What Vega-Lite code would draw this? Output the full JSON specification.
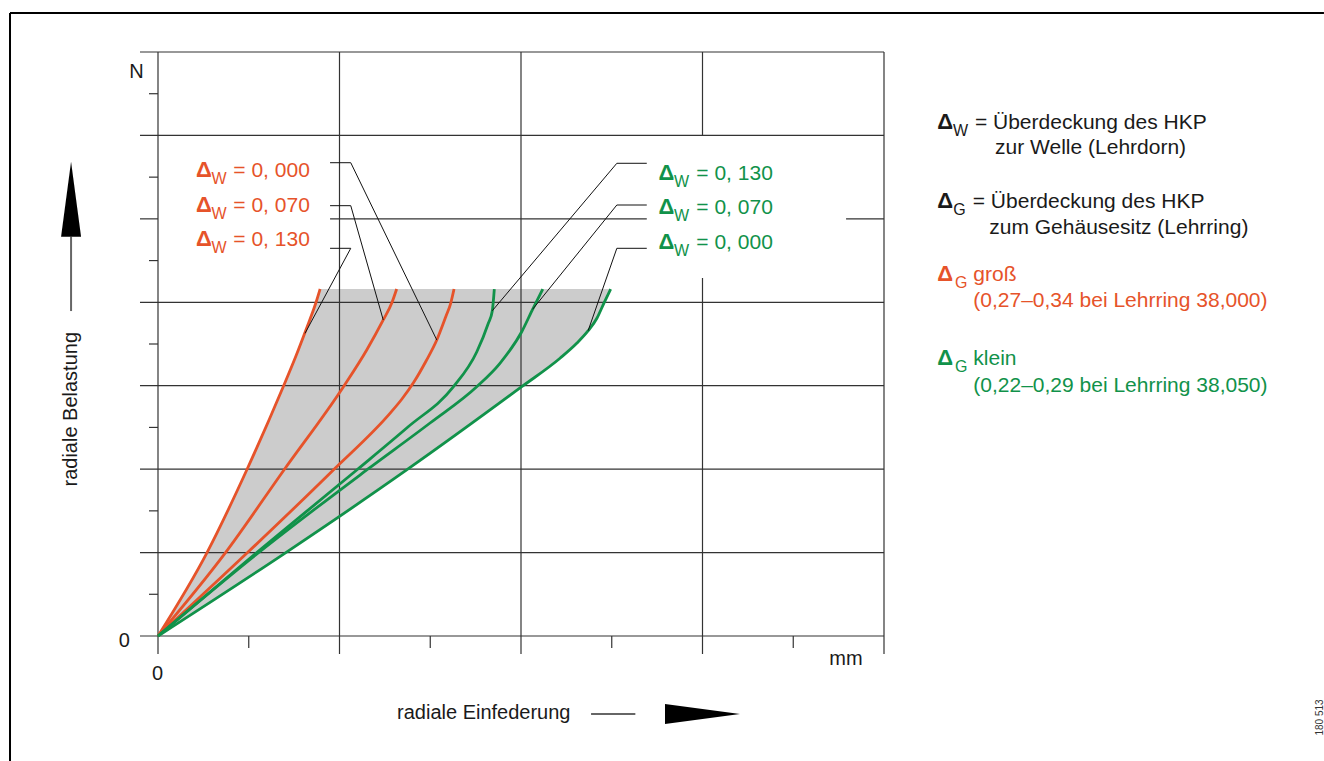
{
  "$schema": "https://vega.github.io/schema/vega-lite/v6.json",
  "width": 726,
  "height": 584,
  "autosize": {"type": "none"},
  "padding": {"left": 158, "top": 52, "right": 440, "bottom": 125},
  "background": "white",
  "config": {"view": {"stroke": null}, "text": {"font": "Liberation Sans"}},
  "datasets": {
    "area": [
      {"y": 0, "x": 0, "x2": 0},
      {"y": 0.979, "x": 0.265, "x2": 0.69},
      {"y": 1.99, "x": 0.489, "x2": 1.37},
      {"y": 2.988, "x": 0.69, "x2": 2.004},
      {"y": 3.329, "x": 0.755, "x2": 2.215},
      {"y": 3.428, "x": 0.773, "x2": 2.266},
      {"y": 3.508, "x": 0.787, "x2": 2.307},
      {"y": 3.656, "x": 0.813, "x2": 2.369},
      {"y": 3.764, "x": 0.831, "x2": 2.404},
      {"y": 3.812, "x": 0.839, "x2": 2.419},
      {"y": 3.988, "x": 0.869, "x2": 2.457},
      {"y": 4.159, "x": 0.893, "x2": 2.494}
    ],
    "grid": [
      {"x": -0.0992, "x2": 4, "y": 0, "y2": 0},
      {"x": -0.0992, "x2": 4, "y": 1, "y2": 1},
      {"x": -0.0992, "x2": 4, "y": 2, "y2": 2},
      {"x": -0.0992, "x2": 4, "y": 3, "y2": 3},
      {"x": -0.0992, "x2": 4, "y": 4, "y2": 4},
      {"x": -0.0992, "x2": 0, "y": 5, "y2": 5},
      {"x": 0.948, "x2": 2.693, "y": 5, "y2": 5},
      {"x": 3.791, "x2": 4, "y": 5, "y2": 5},
      {"x": -0.0992, "x2": 4, "y": 6, "y2": 6},
      {"x": -0.0992, "x2": 4, "y": 7, "y2": 7},
      {"x": 0, "x2": 0, "y": -0.2158, "y2": 7},
      {"x": 1, "x2": 1, "y": -0.2158, "y2": 7},
      {"x": 2, "x2": 2, "y": -0.2158, "y2": 7},
      {"x": 3, "x2": 3, "y": 6, "y2": 7},
      {"x": 3, "x2": 3, "y": -0.2158, "y2": 4.291},
      {"x": 4, "x2": 4, "y": -0.2158, "y2": 7},
      {"x": -0.0496, "x2": 0, "y": 0.5, "y2": 0.5},
      {"x": -0.0496, "x2": 0, "y": 1.5, "y2": 1.5},
      {"x": -0.0496, "x2": 0, "y": 2.5, "y2": 2.5},
      {"x": -0.0496, "x2": 0, "y": 3.5, "y2": 3.5},
      {"x": -0.0496, "x2": 0, "y": 4.5, "y2": 4.5},
      {"x": -0.0496, "x2": 0, "y": 5.5, "y2": 5.5},
      {"x": -0.0496, "x2": 0, "y": 6.5, "y2": 6.5},
      {"x": 0.5, "x2": 0.5, "y": -0.1438, "y2": 0},
      {"x": 1.5, "x2": 1.5, "y": -0.1438, "y2": 0},
      {"x": 2.5, "x2": 2.5, "y": -0.1438, "y2": 0},
      {"x": 3.5, "x2": 3.5, "y": -0.1438, "y2": 0}
    ],
    "frame": [
      {"x": -0.8154, "x2": 6.424, "y": 7.467, "y2": 7.467},
      {"x": -0.8154, "x2": -0.8154, "y": 7.467, "y2": -1.498}
    ],
    "shafts": [
      {"x": -0.479, "x2": -0.479, "y": 3.895, "y2": 4.786},
      {"x": 2.386, "x2": 2.63, "y": -0.935, "y2": -0.935}
    ],
    "heads": [
      {"x": -0.479, "y": 5.236, "d": "up"},
      {"x": 3.0, "y": -0.935, "d": "right"}
    ],
    "curves": [
      {"id": "o130", "c": "o", "x": 0, "y": 0},
      {"id": "o130", "c": "o", "x": 0.268, "y": 0.991},
      {"id": "o130", "c": "o", "x": 0.489, "y": 1.99},
      {"id": "o130", "c": "o", "x": 0.69, "y": 2.988},
      {"id": "o130", "c": "o", "x": 0.76, "y": 3.356},
      {"id": "o130", "c": "o", "x": 0.815, "y": 3.668},
      {"id": "o130", "c": "o", "x": 0.869, "y": 3.988},
      {"id": "o130", "c": "o", "x": 0.893, "y": 4.159},
      {"id": "o070", "c": "o", "x": 0, "y": 0},
      {"id": "o070", "c": "o", "x": 0.369, "y": 0.991},
      {"id": "o070", "c": "o", "x": 0.694, "y": 1.99},
      {"id": "o070", "c": "o", "x": 1.021, "y": 2.985},
      {"id": "o070", "c": "o", "x": 1.15, "y": 3.428},
      {"id": "o070", "c": "o", "x": 1.241, "y": 3.788},
      {"id": "o070", "c": "o", "x": 1.288, "y": 3.991},
      {"id": "o070", "c": "o", "x": 1.315, "y": 4.159},
      {"id": "o000", "c": "o", "x": 0, "y": 0},
      {"id": "o000", "c": "o", "x": 0.489, "y": 0.991},
      {"id": "o000", "c": "o", "x": 0.966, "y": 1.99},
      {"id": "o000", "c": "o", "x": 1.278, "y": 2.669},
      {"id": "o000", "c": "o", "x": 1.344, "y": 2.841},
      {"id": "o000", "c": "o", "x": 1.41, "y": 3.044},
      {"id": "o000", "c": "o", "x": 1.477, "y": 3.296},
      {"id": "o000", "c": "o", "x": 1.536, "y": 3.548},
      {"id": "o000", "c": "o", "x": 1.587, "y": 3.836},
      {"id": "o000", "c": "o", "x": 1.613, "y": 3.991},
      {"id": "o000", "c": "o", "x": 1.631, "y": 4.159},
      {"id": "g130", "c": "g", "x": 0, "y": 0},
      {"id": "g130", "c": "g", "x": 0.534, "y": 0.983},
      {"id": "g130", "c": "g", "x": 1.095, "y": 1.99},
      {"id": "g130", "c": "g", "x": 1.377, "y": 2.505},
      {"id": "g130", "c": "g", "x": 1.627, "y": 2.985},
      {"id": "g130", "c": "g", "x": 1.756, "y": 3.404},
      {"id": "g130", "c": "g", "x": 1.82, "y": 3.748},
      {"id": "g130", "c": "g", "x": 1.842, "y": 3.899},
      {"id": "g130", "c": "g", "x": 1.853, "y": 4.159},
      {"id": "g070", "c": "g", "x": 0, "y": 0},
      {"id": "g070", "c": "g", "x": 0.545, "y": 0.983},
      {"id": "g070", "c": "g", "x": 1.15, "y": 1.99},
      {"id": "g070", "c": "g", "x": 1.499, "y": 2.553},
      {"id": "g070", "c": "g", "x": 1.756, "y": 2.988},
      {"id": "g070", "c": "g", "x": 1.884, "y": 3.269},
      {"id": "g070", "c": "g", "x": 2.004, "y": 3.647},
      {"id": "g070", "c": "g", "x": 2.064, "y": 3.916},
      {"id": "g070", "c": "g", "x": 2.12, "y": 4.159},
      {"id": "g000", "c": "g", "x": 0, "y": 0},
      {"id": "g000", "c": "g", "x": 0.69, "y": 0.979},
      {"id": "g000", "c": "g", "x": 1.37, "y": 1.99},
      {"id": "g000", "c": "g", "x": 2.004, "y": 2.988},
      {"id": "g000", "c": "g", "x": 2.215, "y": 3.329},
      {"id": "g000", "c": "g", "x": 2.307, "y": 3.508},
      {"id": "g000", "c": "g", "x": 2.369, "y": 3.656},
      {"id": "g000", "c": "g", "x": 2.419, "y": 3.812},
      {"id": "g000", "c": "g", "x": 2.457, "y": 3.991},
      {"id": "g000", "c": "g", "x": 2.494, "y": 4.159}
    ],
    "leaders": [
      {"id": "a", "o": 1, "x": 0.948, "y": 5.673},
      {"id": "a", "o": 2, "x": 1.062, "y": 5.673},
      {"id": "a", "o": 3, "x": 1.536, "y": 3.548},
      {"id": "b", "o": 1, "x": 0.948, "y": 5.158},
      {"id": "b", "o": 2, "x": 1.062, "y": 5.158},
      {"id": "b", "o": 3, "x": 1.241, "y": 3.788},
      {"id": "c", "o": 1, "x": 0.948, "y": 4.647},
      {"id": "c", "o": 2, "x": 1.062, "y": 4.647},
      {"id": "c", "o": 3, "x": 0.81, "y": 3.628},
      {"id": "d", "o": 1, "x": 2.693, "y": 5.666},
      {"id": "d", "o": 2, "x": 2.528, "y": 5.666},
      {"id": "d", "o": 3, "x": 1.842, "y": 3.899},
      {"id": "e", "o": 1, "x": 2.693, "y": 5.166},
      {"id": "e", "o": 2, "x": 2.528, "y": 5.166},
      {"id": "e", "o": 3, "x": 2.064, "y": 3.916},
      {"id": "f", "o": 1, "x": 2.693, "y": 4.647},
      {"id": "f", "o": 2, "x": 2.528, "y": 4.647},
      {"id": "f", "o": 3, "x": 2.37, "y": 3.66}
    ],
    "delta": [
      {"x": 0.209, "y": 5.502, "c": "o"},
      {"x": 0.209, "y": 5.086, "c": "o"},
      {"x": 0.209, "y": 4.675, "c": "o"},
      {"x": 2.757, "y": 5.466, "c": "g"},
      {"x": 2.757, "y": 5.054, "c": "g"},
      {"x": 2.757, "y": 4.639, "c": "g"},
      {"x": 4.294, "y": 6.077, "c": "k"},
      {"x": 4.294, "y": 5.127, "c": "k"},
      {"x": 4.294, "y": 4.259, "c": "o"},
      {"x": 4.294, "y": 3.248, "c": "g"}
    ],
    "sub": [
      {"x": 0.295, "y": 5.502, "t": "W", "c": "o"},
      {"x": 0.295, "y": 5.086, "t": "W", "c": "o"},
      {"x": 0.295, "y": 4.675, "t": "W", "c": "o"},
      {"x": 2.843, "y": 5.466, "t": "W", "c": "g"},
      {"x": 2.843, "y": 5.054, "t": "W", "c": "g"},
      {"x": 2.843, "y": 4.639, "t": "W", "c": "g"},
      {"x": 4.38, "y": 6.077, "t": "W", "c": "k"},
      {"x": 4.382, "y": 5.127, "t": "G", "c": "k"},
      {"x": 4.391, "y": 4.259, "t": "G", "c": "o"},
      {"x": 4.391, "y": 3.248, "t": "G", "c": "g"}
    ],
    "txt": [
      {"x": 0.415, "y": 5.502, "t": "= 0, 000", "c": "o"},
      {"x": 0.415, "y": 5.086, "t": "= 0, 070", "c": "o"},
      {"x": 0.415, "y": 4.675, "t": "= 0, 130", "c": "o"},
      {"x": 2.966, "y": 5.466, "t": "= 0, 130", "c": "g"},
      {"x": 2.966, "y": 5.054, "t": "= 0, 070", "c": "g"},
      {"x": 2.966, "y": 4.639, "t": "= 0, 000", "c": "g"},
      {"x": 4.501, "y": 6.077, "t": "= Überdeckung des HKP", "c": "k"},
      {"x": 4.612, "y": 5.777, "t": "zur Welle (Lehrdorn)", "c": "k"},
      {"x": 4.489, "y": 5.127, "t": "= Überdeckung des HKP", "c": "k"},
      {"x": 4.58, "y": 4.818, "t": "zum Gehäusesitz (Lehrring)", "c": "k"},
      {"x": 4.492, "y": 4.259, "t": "groß", "c": "o"},
      {"x": 4.492, "y": 3.94, "t": "(0,27–0,34 bei Lehrring 38,000)", "c": "o"},
      {"x": 4.492, "y": 3.248, "t": "klein", "c": "g"},
      {"x": 4.492, "y": 2.928, "t": "(0,22–0,29 bei Lehrring 38,050)", "c": "g"}
    ],
    "axistxt": [
      {"x": -0.158, "y": 6.685, "t": "N"},
      {"x": -0.2165, "y": -0.128, "t": "0"},
      {"x": -0.0336, "y": -0.527, "t": "0"},
      {"x": 3.699, "y": -0.348, "t": "mm"},
      {"x": 1.317, "y": -0.995, "t": "radiale Einfederung"}
    ],
    "ytitle": [
      {"x": -0.448, "y": 2.718, "t": "radiale Belastung"}
    ],
    "code": [
      {"x": 6.419, "y": -0.977, "t": "180 513"}
    ]
  },
  "encoding": {
    "x": {"field": "x", "type": "quantitative", "scale": {"domain": [0, 4], "nice": false, "zero": false}, "axis": null},
    "y": {"field": "y", "type": "quantitative", "scale": {"domain": [0, 7], "nice": false, "zero": false}, "axis": null}
  },
  "layer": [
    {
      "data": {"name": "area"},
      "mark": {"type": "area", "orient": "horizontal", "color": "#cccccc", "interpolate": "monotone"},
      "encoding": {"x2": {"field": "x2"}}
    },
    {
      "data": {"name": "grid"},
      "mark": {"type": "rule", "color": "#333333", "strokeWidth": 1.2},
      "encoding": {"x2": {"field": "x2"}, "y2": {"field": "y2"}}
    },
    {
      "data": {"name": "frame"},
      "mark": {"type": "rule", "color": "#000000", "strokeWidth": 2},
      "encoding": {"x2": {"field": "x2"}, "y2": {"field": "y2"}}
    },
    {
      "data": {"name": "shafts"},
      "mark": {"type": "rule", "color": "#666666", "strokeWidth": 2},
      "encoding": {"x2": {"field": "x2"}, "y2": {"field": "y2"}}
    },
    {
      "data": {"name": "heads"},
      "mark": {"type": "point", "filled": true, "color": "#000000", "opacity": 1, "size": 5625},
      "encoding": {
        "shape": {"field": "d", "type": "nominal", "scale": {"domain": ["up", "right"], "range": ["M0,-1L0.2667,1L-0.2667,1Z", "M1,0L-1,-0.2667L-1,0.2667Z"]}, "legend": null}
      }
    },
    {
      "data": {"name": "curves"},
      "mark": {"type": "line", "strokeWidth": 2.8, "interpolate": "monotone"},
      "encoding": {
        "detail": {"field": "id"},
        "color": {"field": "c", "type": "nominal", "scale": {"domain": ["k", "o", "g"], "range": ["#1a1a1a", "#E6532A", "#11924A"]}, "legend": null}
      }
    },
    {
      "data": {"name": "leaders"},
      "mark": {"type": "line", "color": "#111111", "strokeWidth": 1},
      "encoding": {"detail": {"field": "id"}, "order": {"field": "o", "type": "quantitative"}}
    },
    {
      "data": {"name": "delta"},
      "mark": {"type": "text", "text": "Δ", "fontSize": 22, "fontWeight": "bold", "align": "left", "baseline": "alphabetic"},
      "encoding": {
        "color": {"field": "c", "type": "nominal", "scale": {"domain": ["k", "o", "g"], "range": ["#1a1a1a", "#E6532A", "#11924A"]}, "legend": null}
      }
    },
    {
      "data": {"name": "sub"},
      "mark": {"type": "text", "fontSize": 16, "align": "left", "baseline": "alphabetic", "dy": 7},
      "encoding": {
        "text": {"field": "t"},
        "color": {"field": "c", "type": "nominal", "scale": {"domain": ["k", "o", "g"], "range": ["#1a1a1a", "#E6532A", "#11924A"]}, "legend": null}
      }
    },
    {
      "data": {"name": "txt"},
      "mark": {"type": "text", "fontSize": 21, "align": "left", "baseline": "alphabetic"},
      "encoding": {
        "text": {"field": "t"},
        "color": {"field": "c", "type": "nominal", "scale": {"domain": ["k", "o", "g"], "range": ["#1a1a1a", "#E6532A", "#11924A"]}, "legend": null}
      }
    },
    {
      "data": {"name": "axistxt"},
      "mark": {"type": "text", "fontSize": 20, "align": "left", "baseline": "alphabetic", "color": "#1a1a1a"},
      "encoding": {"text": {"field": "t"}}
    },
    {
      "data": {"name": "ytitle"},
      "mark": {"type": "text", "fontSize": 20, "align": "center", "baseline": "alphabetic", "angle": 270, "color": "#1a1a1a"},
      "encoding": {"text": {"field": "t"}}
    },
    {
      "data": {"name": "code"},
      "mark": {"type": "text", "fontSize": 10, "align": "center", "baseline": "alphabetic", "angle": 270, "color": "#333333"},
      "encoding": {"text": {"field": "t"}}
    }
  ]
}
